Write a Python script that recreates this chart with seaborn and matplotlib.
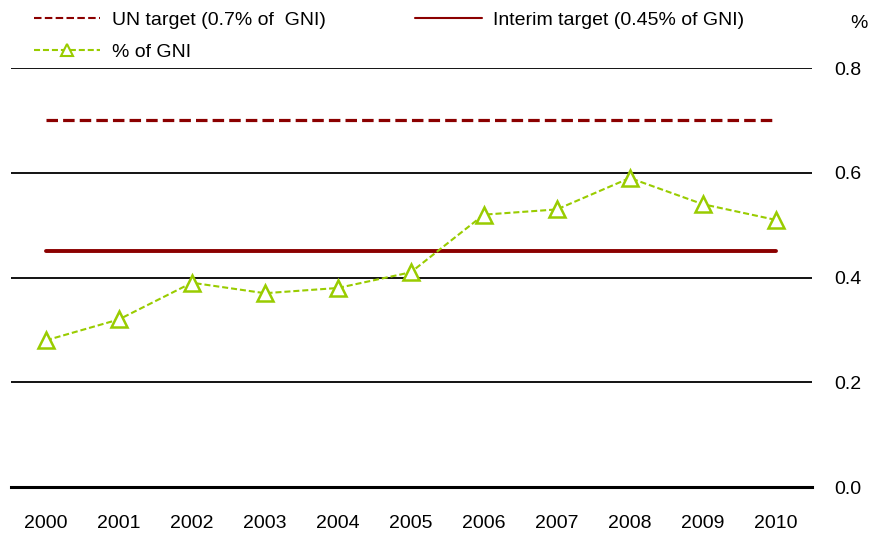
import pandas as pd
import matplotlib.pyplot as plt
import seaborn as sns

# Data
years = [2000, 2001, 2002, 2003, 2004, 2005, 2006, 2007, 2008, 2009, 2010]
oda_gni = [0.28, 0.32, 0.39, 0.37, 0.38, 0.41, 0.52, 0.53, 0.59, 0.54, 0.51]
un_target = [0.7] * len(years)
interim_target = [0.45] * len(years)
y_ticks = [0.0, 0.2, 0.4, 0.6, 0.8]

df = pd.DataFrame({'year': years, 'gni': oda_gni,
                   'un': un_target, 'interim': interim_target})

sns.set_style("white")
plt.rcParams['font.family'] = ['Liberation Sans', 'DejaVu Sans']
plt.rcParams['text.color'] = 'black'

fig = plt.figure(figsize=(8.7, 5.33), dpi=100)
ax = fig.add_axes([0.0126, 0.0863, 0.921, 0.7861])

DARK_RED = '#8B0000'
GREEN = '#99CC00'
FS = 14

sns.lineplot(data=df, x='year', y='un', ax=ax, color=DARK_RED, lw=2.3,
             linestyle=(0, (3.6, 1.6)), label='UN target (0.7% of  GNI)')
sns.lineplot(data=df, x='year', y='interim', ax=ax, color=DARK_RED, lw=2.8,
             label='Interim target (0.45% of GNI)')
sns.lineplot(data=df, x='year', y='gni', ax=ax, color=GREEN, lw=1.5,
             linestyle=(0, (2.9, 1.4)), marker='^', markersize=11,
             markerfacecolor='white', markeredgecolor=GREEN, markeredgewidth=1.8,
             label='% of GNI')

ax.set_xlim(1999.52, 2010.5)
ax.set_ylim(0, 0.8)
ax.set_xticks(years)
ax.set_yticks(y_ticks)
ax.set_yticklabels([f'{v:.1f}' for v in y_ticks])
ax.yaxis.tick_right()
ax.tick_params(axis='both', length=0, labelsize=FS, colors='black')
ax.tick_params(axis='y', pad=16)
ax.tick_params(axis='x', pad=20)
ax.set_xlabel('')
ax.set_ylabel('')

for v in y_ticks[1:]:
    ax.axhline(v, color='black', lw=1.3, zorder=0)
for s in ['top', 'left', 'right']:
    ax.spines[s].set_visible(False)
ax.spines['bottom'].set_color('black')
ax.spines['bottom'].set_linewidth(2.2)

ax.text(0.997, 0.955, '%', transform=fig.transFigure, ha='right', va='center',
        fontsize=FS)

handles, labels = ax.get_legend_handles_labels()
order = [0, 2, 1]
leg = ax.legend([handles[i] for i in order], [labels[i] for i in order],
                ncol=2, loc='lower left', bbox_to_anchor=(0.017, 0.993), frameon=False,
                fontsize=FS, handlelength=3.4, handletextpad=0.6,
                columnspacing=4.6, labelspacing=0.75, borderaxespad=0.1)
for line in leg.get_lines():
    line.set_linewidth(1.5)
    line.set_markersize(8)
    line.set_markeredgewidth(1.5)
for t in leg.get_texts():
    t.set_color('black')

fig.savefig('out.png', dpi=100)
